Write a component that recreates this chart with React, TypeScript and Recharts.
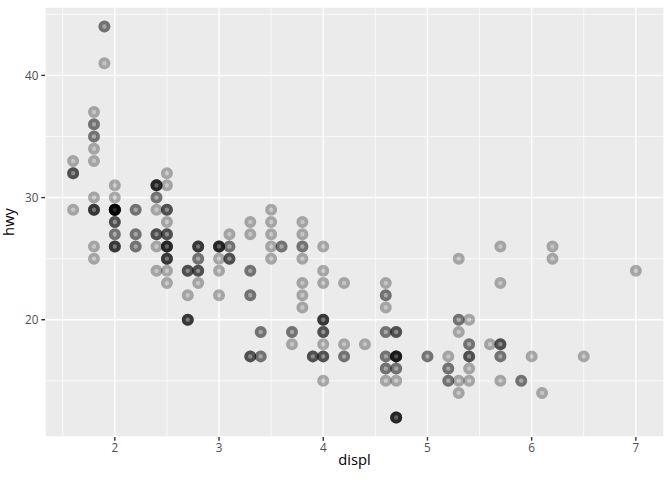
import React from "react";
import {
  ScatterChart,
  Scatter,
  XAxis,
  YAxis,
  CartesianGrid,
  ReferenceLine,
  Label,
} from "recharts";

// mpg: engine displacement (litres) and highway miles per gallon
const displ = [
  1.8, 1.8, 2.0, 2.0, 2.8, 2.8, 3.1,
  1.8, 1.8, 2.0, 2.0, 2.8, 2.8, 3.1, 3.1, 2.8, 3.1, 4.2,
  5.3, 5.3, 5.3, 5.7, 6.0, 5.7, 5.7, 6.2, 6.2, 7.0, 5.3, 5.3, 5.7, 6.5,
  2.4, 2.4, 3.1, 3.5, 3.6,
  2.4, 3.0, 3.3, 3.3, 3.3, 3.3, 3.3, 3.8, 3.8, 3.8, 4.0,
  3.7, 3.7, 3.9, 3.9, 4.7, 4.7, 4.7, 5.2, 5.2,
  3.9, 4.7, 4.7, 4.7, 5.2, 5.7, 5.9,
  4.7, 4.7, 4.7, 4.7, 4.7, 4.7, 5.2, 5.2, 5.7, 5.9,
  4.6, 5.4, 5.4,
  4.0, 4.0, 4.0, 4.0, 4.6, 5.0,
  4.2, 4.2, 4.6, 4.6, 4.6, 5.4, 5.4,
  3.8, 3.8, 4.0, 4.0, 4.6, 4.6, 4.6, 4.6, 5.4,
  1.6, 1.6, 1.6, 1.6, 1.6, 1.8, 1.8, 1.8, 2.0,
  2.4, 2.4, 2.4, 2.4, 2.5, 2.5, 3.3,
  2.0, 2.0, 2.0, 2.0, 2.7, 2.7, 2.7,
  3.0, 3.7, 4.0, 4.7, 4.7, 4.7, 5.7, 6.1,
  4.0, 4.2, 4.4, 4.6,
  5.4, 5.4, 5.4,
  4.0, 4.0, 4.6, 5.0,
  2.4, 2.4, 2.5, 2.5, 3.5, 3.5,
  3.0, 3.0, 3.5,
  3.3, 3.3, 4.0, 5.6,
  3.1, 3.8, 3.8, 3.8, 5.3,
  2.5, 2.5, 2.5, 2.5, 2.5, 2.5,
  2.2, 2.2, 2.5, 2.5, 2.5, 2.5, 2.5, 2.5,
  2.7, 2.7, 3.4, 3.4, 4.0, 4.7,
  2.2, 2.2, 2.4, 2.4, 3.0, 3.0, 3.5,
  2.2, 2.2, 2.4, 2.4, 3.0, 3.0, 3.3,
  1.8, 1.8, 1.8, 1.8, 1.8,
  4.7, 5.7,
  2.7, 2.7, 2.7, 3.4, 3.4, 4.0, 4.0,
  2.0, 2.0, 2.0, 2.0, 2.8,
  1.9, 2.0, 2.0, 2.0, 2.0, 2.5, 2.5, 2.8, 2.8,
  1.9, 1.9, 2.0, 2.0, 2.5, 2.5,
  1.8, 1.8, 2.0, 2.0, 2.8, 2.8, 3.6,
];

const hwy = [
  29, 29, 31, 30, 26, 26, 27,
  26, 25, 28, 27, 25, 25, 25, 25, 24, 25, 23,
  20, 15, 20, 17, 17, 26, 23, 26, 25, 24, 19, 14, 15, 17,
  27, 30, 26, 29, 26,
  24, 24, 22, 22, 24, 24, 17, 22, 21, 23, 23,
  19, 18, 17, 17, 19, 19, 12, 17, 15,
  17, 17, 12, 17, 16, 18, 15,
  16, 12, 17, 17, 16, 12, 15, 16, 17, 15,
  17, 17, 18,
  17, 19, 17, 19, 19, 17,
  17, 17, 16, 16, 17, 15, 17,
  26, 25, 26, 24, 21, 22, 23, 22, 20,
  33, 32, 32, 29, 32, 34, 36, 36, 29,
  26, 27, 30, 31, 26, 26, 28,
  26, 29, 28, 27, 24, 24, 24,
  22, 19, 20, 17, 12, 19, 18, 14,
  15, 18, 18, 15,
  17, 16, 18,
  17, 19, 19, 17,
  29, 27, 31, 32, 27, 26,
  26, 25, 25,
  17, 17, 20, 18,
  26, 26, 27, 28, 25,
  25, 24, 27, 25, 26, 23,
  26, 26, 26, 26, 25, 27, 25, 27,
  20, 20, 19, 17, 20, 17,
  29, 27, 31, 31, 26, 26, 28,
  27, 29, 31, 31, 26, 26, 27,
  30, 33, 35, 37, 35,
  15, 18,
  20, 20, 22, 17, 19, 18, 20,
  29, 26, 29, 29, 24,
  44, 29, 26, 29, 29, 29, 29, 23, 24,
  44, 41, 29, 26, 28, 29,
  29, 29, 28, 29, 26, 26, 26,
];

const xTicks = [2, 3, 4, 5, 6, 7];
const yTicks = [20, 30, 40];
const xMinor = [1.5, 2.5, 3.5, 4.5, 5.5, 6.5];
const yMinor = [15, 25, 35, 45];

const data = displ.map((d, i) => ({ displ: d, hwy: hwy[i] }));

const tickStyle = { fill: "#4D4D4D", fontSize: 11.7, fontFamily: "Open Sans" };

// ggplot-ish ring: translucent stroke with a lighter translucent centre
const RingPoint = (props: any) => {
  const { cx, cy } = props;
  if (cx == null || cy == null) return null;
  return (
    <g>
      <circle cx={cx} cy={cy} r={2.2} fill="#000" fillOpacity={0.16} />
      <circle
        cx={cx}
        cy={cy}
        r={4.1}
        fill="none"
        stroke="#000"
        strokeOpacity={0.3}
        strokeWidth={3.8}
      />
    </g>
  );
};

export default function App() {
  return (
    <div style={{ position: "absolute", left: 0, top: 0, fontFamily: "Open Sans", background: "#fff" }}>
      <ScatterChart width={672} height={480} margin={{ top: 7, right: 8, bottom: 0, left: 0 }}>
        <CartesianGrid fill="#EBEBEB" fillOpacity={1} stroke="#FFFFFF" strokeWidth={1.42} />
        {xMinor.map((v) => (
          <ReferenceLine key={"x" + v} x={v} stroke="#FFFFFF" strokeWidth={0.71} />
        ))}
        {yMinor.map((v) => (
          <ReferenceLine key={"y" + v} y={v} stroke="#FFFFFF" strokeWidth={0.71} />
        ))}
        <XAxis
          type="number"
          dataKey="displ"
          domain={[1.33, 7.27]}
          allowDataOverflow
          ticks={xTicks}
          height={43}
          axisLine={false}
          tickLine={{ stroke: "#333333", strokeWidth: 1.42 }}
          tickSize={3.67}
          tickMargin={2.93}
          tick={tickStyle}
        >
          <Label value="displ" position="insideBottom" offset={15} fill="#000" fontSize={14.7} fontFamily="Open Sans" />
        </XAxis>
        <YAxis
          type="number"
          dataKey="hwy"
          domain={[10.4, 45.6]}
          allowDataOverflow
          ticks={yTicks}
          width={45}
          axisLine={false}
          tickLine={{ stroke: "#333333", strokeWidth: 1.42 }}
          tickSize={3.67}
          tickMargin={2.93}
          tick={tickStyle}
        >
          <Label
            value="hwy"
            angle={-90}
            position="insideLeft"
            offset={9}
            fill="#000"
            fontSize={14.7}
            fontFamily="Open Sans"
            style={{ textAnchor: "middle" }}
          />
        </YAxis>
        <Scatter data={data} shape={RingPoint} isAnimationActive={false} />
      </ScatterChart>
    </div>
  );
}
